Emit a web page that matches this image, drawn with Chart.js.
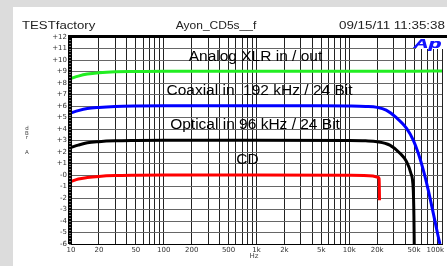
<!DOCTYPE html>
<html>
<head>
<meta charset="utf-8">
<script src="https://cdn.jsdelivr.net/npm/chart.js@4.4.0/dist/chart.umd.min.js"></script>
<style>
html, body { margin: 0; padding: 0; background: #dcdcdc; }
</style>
</head>
<body>
<canvas id="myChart" width="447" height="266"></canvas>
<script>
// X axis: labelled frequencies and the grid decades
const xLabelFreqs = [10, 20, 50, 100, 200, 500, 1000, 2000, 5000, 10000, 20000, 50000, 100000];
const xLabels = ['10', '20', '50', '100', '200', '500', '1k', '2k', '5k', '10k', '20k', '50k', '100k'];
const gridDecades = [10, 100, 1000, 10000];
const gridSteps = [1, 2, 3, 4, 5, 6, 7, 8, 9];

// Y axis labels, from -6 to +12
const yTickLabels = ['-6', '-5', '-4', '-3', '-2', '-1', '-0', '+1', '+2', '+3', '+4', '+5', '+6',
                     '+7', '+8', '+9', '+10', '+11', '+12'];

// Analog XLR in / out (green)
const analogHz = [10, 12, 15, 20, 30, 50, 100, 1000, 10000, 50000, 100000];
const analogDb = [8.4, 8.6, 8.78, 8.9, 8.98, 9.0, 9.02, 9.02, 9.02, 9.03, 9.05];

// Coaxial in 192 kHz / 24 Bit (blue)
const coaxHz = [10, 12, 15, 20, 30, 50, 100, 1000, 5000, 10000, 15000, 20000, 25000, 32000,
                41500, 49000, 55500, 62800, 71000, 80500, 91000, 95000];
const coaxDb = [5.4, 5.6, 5.78, 5.88, 5.96, 6.0, 6.02, 6.02, 6.02, 6.0, 5.96, 5.88, 5.64, 5.01,
                4.06, 3.04, 1.89, 0.44, -1.3, -3.32, -5.35, -6.0];

// Optical in 96 kHz / 24 Bit (black)
const opticalHz = [10, 12, 15, 20, 30, 50, 100, 1000, 10000, 15000, 20000, 27400, 35200, 41500,
                   46200, 49000, 49800, 50200];
const opticalDb = [2.4, 2.6, 2.8, 2.9, 2.97, 3.0, 3.02, 3.02, 3.0, 2.97, 2.9, 2.6, 1.89, 1.16,
                   0.15, -1.3, -3.6, -6.0];

// CD (red)
const cdHz = [10, 12, 15, 20, 30, 50, 100, 1000, 10000, 18000, 20300, 21000, 21200];
const cdDb = [-0.57, -0.35, -0.22, -0.12, -0.05, -0.02, 0, 0, -0.02, -0.08, -0.2, -0.3, -2.2];

// text notes inside the plot: label, frequency, dB (baseline)
const noteText = ['Analog XLR in / out', 'Coaxial in  192 kHz / 24 Bit', 'Optical in 96 kHz / 24 Bit', 'CD'];
const noteHz = [975, 1077, 964, 800];
const noteDb = [9.94, 6.96, 3.97, 0.96];

const gridFreqs = [];
gridDecades.forEach(d => gridSteps.forEach(s => gridFreqs.push(d * s)));
gridFreqs.push(100000);

function points(hz, db) {
    return hz.map((f, i) => ({ x: f, y: db[i] }));
}

function stretchText(c, text, x, y, align, sx) {
    c.save();
    c.translate(x, y);
    c.scale(sx, 1);
    c.textAlign = align;
    c.fillText(text, 0, 0);
    c.restore();
}

// background, frame and all the loose texts
const framePlugin = {
    id: 'framePlugin',
    beforeDraw(chart) {
        const c = chart.ctx;
        c.save();
        c.fillStyle = '#dcdcdc';
        c.fillRect(0, 0, chart.width, chart.height);
        c.fillStyle = '#ffffff';
        c.fillRect(13, 7, chart.width - 13, chart.height - 7);
        c.restore();
    },
    afterDraw(chart) {
        const c = chart.ctx;
        const a = chart.chartArea;
        const xs = chart.scales.x;
        const ys = chart.scales.y;
        c.save();

        // thick left bar and top border
        c.fillStyle = '#000';
        c.fillRect(a.left - 3, a.top - 2, 4, a.bottom - a.top + 2);
        c.fillRect(a.left - 3, a.top - 2, a.right - a.left + 8, 3);
        // fine marks inside the left bar
        c.strokeStyle = '#777';
        c.lineWidth = 1;
        for (let v = -6; v < 12; v += 0.25) {
            const py = Math.round(ys.getPixelForValue(v)) + 0.5;
            c.beginPath();
            c.moveTo(a.left - 2, py);
            c.lineTo(a.left, py);
            c.stroke();
        }

        // header line
        c.fillStyle = '#222';
        c.font = '10px "Liberation Sans"';
        c.textBaseline = 'alphabetic';
        stretchText(c, 'TESTfactory', 22, 29, 'left', 1.32);
        stretchText(c, 'Ayon_CD5s__f', 216, 29, 'center', 1.2);
        stretchText(c, '09/15/11 11:35:38', 445, 29, 'right', 1.34);

        // Ap logo
        c.fillStyle = '#fff';
        c.fillRect(416, 38, 28, 11);
        c.fillStyle = '#1414ff';
        c.font = 'italic bold 13px "Liberation Sans"';
        stretchText(c, 'Ap', 441, 48, 'right', 1.6);
        stretchText(c, 'Ap', 441.6, 48, 'right', 1.6);

        // notes over the curves
        c.fillStyle = '#000';
        c.font = '15.5px "Liberation Sans"';
        c.textAlign = 'center';
        noteText.forEach((t, i) => {
            c.fillText(t, xs.getPixelForValue(noteHz[i]), ys.getPixelForValue(noteDb[i]));
        });

        // axis titles
        c.fillStyle = '#444';
        c.font = '5.5px "DejaVu Sans"';
        c.textAlign = 'center';
        c.fillText('d', 27, 130);
        c.fillText('B', 27, 134.5);
        c.fillText('r', 27, 139);
        c.fillText('A', 27, 154);
        c.font = '7px "DejaVu Sans"';
        c.fillText('Hz', 254, 258);
        c.restore();
    }
};

const ctx = document.getElementById('myChart').getContext('2d');
const myChart = new Chart(ctx, {
    type: 'line',
    data: {
        datasets: [
            { label: 'Analog XLR in / out', data: points(analogHz, analogDb), borderColor: '#22ee22' },
            { label: 'Coaxial in 192 kHz / 24 Bit', data: points(coaxHz, coaxDb), borderColor: '#0000ff' },
            { label: 'Optical in 96 kHz / 24 Bit', data: points(opticalHz, opticalDb), borderColor: '#000000' },
            { label: 'CD', data: points(cdHz, cdDb), borderColor: '#ff0000' }
        ]
    },
    options: {
        responsive: false,
        animation: false,
        devicePixelRatio: 1,
        layout: { padding: { left: 31, top: 37, right: 5, bottom: 0 } },
        elements: {
            point: { radius: 0 },
            line: { borderWidth: 3, fill: false, cubicInterpolationMode: 'monotone' }
        },
        plugins: {
            legend: { display: false },
            tooltip: { enabled: false }
        },
        scales: {
            x: {
                type: 'logarithmic',
                min: 10,
                max: 100000,
                afterBuildTicks: scale => {
                    scale.ticks = gridFreqs.map(v => ({ value: v }));
                },
                afterFit: scale => {
                    scale.height = 22;
                    scale.paddingLeft = 0;
                    scale.paddingRight = 0;
                },
                ticks: {
                    autoSkip: false,
                    maxRotation: 0,
                    minRotation: 0,
                    padding: 2,
                    color: '#333',
                    font: { family: 'DejaVu Sans', size: 7 },
                    callback: value => {
                        const i = xLabelFreqs.indexOf(value);
                        if (i < 0) return '';
                        // last label sits inside the frame, as in the print
                        return value === 100000 ? xLabels[i] + '      ' : xLabels[i];
                    }
                },
                grid: { color: '#222', lineWidth: 1, drawTicks: false },
                border: { color: '#000', width: 1 }
            },
            y: {
                min: -6,
                max: 12,
                afterFit: scale => {
                    scale.width = 40;
                    scale.paddingTop = 0;
                    scale.paddingBottom = 0;
                },
                ticks: {
                    stepSize: 1,
                    padding: 4,
                    color: '#333',
                    font: { family: 'DejaVu Sans', size: 7 },
                    callback: value => yTickLabels[value + 6]
                },
                grid: { color: '#666', lineWidth: 1, drawTicks: false },
                border: { display: false }
            }
        }
    },
    plugins: [framePlugin]
});
</script>
</body>
</html>
